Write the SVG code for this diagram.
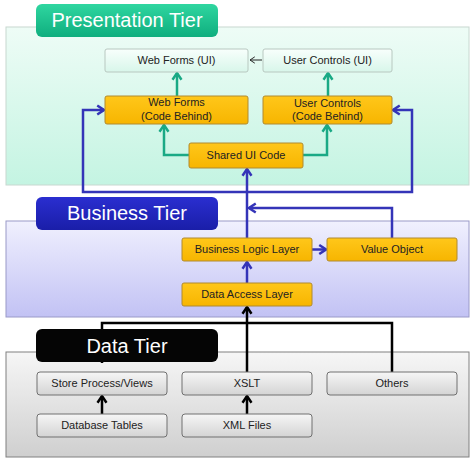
<svg xmlns="http://www.w3.org/2000/svg" width="474" height="465" viewBox="0 0 474 465">
<defs>
<linearGradient id="gPres" x1="0" y1="0" x2="0" y2="1"><stop offset="0" stop-color="#eefcf6"/><stop offset="1" stop-color="#c4f4e2"/></linearGradient>
<linearGradient id="gBus" x1="0" y1="0" x2="0" y2="1"><stop offset="0" stop-color="#f0f0fe"/><stop offset="1" stop-color="#c2c2f4"/></linearGradient>
<linearGradient id="gData" x1="0" y1="0" x2="0" y2="1"><stop offset="0" stop-color="#f6f6f6"/><stop offset="1" stop-color="#cfcfcf"/></linearGradient>
<linearGradient id="gPresT" x1="0" y1="0" x2="0" y2="1"><stop offset="0" stop-color="#2fd6a0"/><stop offset="1" stop-color="#0fae7e"/></linearGradient>
<linearGradient id="gBusT" x1="0" y1="0" x2="0" y2="1"><stop offset="0" stop-color="#2a2ed0"/><stop offset="1" stop-color="#1a1ea8"/></linearGradient>
<linearGradient id="gUI" x1="0" y1="0" x2="0" y2="1"><stop offset="0" stop-color="#f8fffc"/><stop offset="1" stop-color="#d8f6ea"/></linearGradient>
<linearGradient id="gOr" x1="0" y1="0" x2="0" y2="1"><stop offset="0" stop-color="#ffc71a"/><stop offset="1" stop-color="#f7b500"/></linearGradient>
<linearGradient id="gGr" x1="0" y1="0" x2="0" y2="1"><stop offset="0" stop-color="#f6f6f6"/><stop offset="1" stop-color="#d4d4d4"/></linearGradient>
<marker id="aG" viewBox="0 0 10 10" refX="8" refY="5" markerWidth="4.5" markerHeight="4.5" orient="auto" markerUnits="strokeWidth"><polyline points="2,1 8,5 2,9" fill="none" stroke="#1aa985" stroke-width="2.2"/></marker>
<marker id="aB" viewBox="0 0 10 10" refX="8" refY="5" markerWidth="4.5" markerHeight="4.5" orient="auto" markerUnits="strokeWidth"><polyline points="2,1 8,5 2,9" fill="none" stroke="#3434b8" stroke-width="2.2"/></marker>
<marker id="aK" viewBox="0 0 10 10" refX="8" refY="5" markerWidth="4.5" markerHeight="4.5" orient="auto" markerUnits="strokeWidth"><polyline points="2,1 8,5 2,9" fill="none" stroke="#000" stroke-width="2.2"/></marker>
<marker id="aT" viewBox="0 0 10 10" refX="8" refY="5" markerWidth="8" markerHeight="8" orient="auto" markerUnits="strokeWidth"><polyline points="2,1 8,5 2,9" fill="none" stroke="#222" stroke-width="1.2"/></marker>
</defs>
<style>
text{font-family:"Liberation Sans",Arial,sans-serif;}
.tier{fill:#fff;font-size:20px;}
.lbl{font-size:11px;fill:#222;text-anchor:middle;}
.ui{fill:url(#gUI);stroke:#b8c8c0;stroke-width:1;}
.or{fill:url(#gOr);stroke:#b08a30;stroke-width:1;}
.gr{fill:url(#gGr);stroke:#707070;stroke-width:1;}
.g{fill:none;stroke:#1aa985;stroke-width:2.5;}
.b{fill:none;stroke:#3434b8;stroke-width:2.5;}
.k{fill:none;stroke:#000;stroke-width:2.5;}
</style>
<rect width="474" height="465" fill="#fff"/>
<g id="panels">
<rect id="presPanel" x="6" y="27" width="463" height="158" fill="url(#gPres)" stroke="#c8d8d0"/>
<rect id="busPanel" x="6" y="221" width="463" height="96" fill="url(#gBus)" stroke="#9a9ac8"/>
<rect id="dataPanel" x="6" y="352" width="463" height="105" fill="url(#gData)" stroke="#808080"/>
</g>
<g id="connectors">
<line x1="262" y1="60" x2="250" y2="60" style="fill:none;stroke:#222;stroke-width:1" marker-end="url(#aT)"/>
<line class="g" x1="177" y1="96" x2="177" y2="73" marker-end="url(#aG)"/>
<line class="g" x1="328" y1="96" x2="328" y2="73" marker-end="url(#aG)"/>
<polyline class="g" points="189,155 164,155 164,125" marker-end="url(#aG)"/>
<polyline class="g" points="303,155 327,155 327,125" marker-end="url(#aG)"/>
<line class="b" x1="247" y1="238" x2="247" y2="169" marker-end="url(#aB)"/>
<polyline class="b" points="247,192 83,192 83,110 104,110" marker-end="url(#aB)"/>
<polyline class="b" points="247,192 412,192 412,110 393,110" marker-end="url(#aB)"/>
<polyline class="b" points="392,238 392,208 249,208" marker-end="url(#aB)"/>
<line class="b" x1="312" y1="249.5" x2="326" y2="249.5" marker-end="url(#aB)"/>
<line class="b" x1="247" y1="283" x2="247" y2="262" marker-end="url(#aB)"/>
<line class="k" x1="247" y1="372" x2="247" y2="307" marker-end="url(#aK)"/>
<polyline class="k" points="102,363 102,323 392,323 392,372"/>
<line class="k" x1="102" y1="414" x2="102" y2="396" marker-end="url(#aK)"/>
<line class="k" x1="247" y1="414" x2="247" y2="396" marker-end="url(#aK)"/>
</g>
<g id="presTierLabel"><rect x="36" y="4" width="182" height="33" rx="6" fill="url(#gPresT)"/><text class="tier" x="127" y="27" text-anchor="middle">Presentation Tier</text></g>
<g id="busTierLabel"><rect x="36" y="197" width="182" height="33" rx="6" fill="url(#gBusT)"/><text class="tier" x="127" y="220" text-anchor="middle">Business Tier</text></g>
<g id="dataTierLabel"><rect x="36" y="329" width="182" height="33" rx="6" fill="#050505"/><text class="tier" x="127" y="353" text-anchor="middle">Data Tier</text></g>
<g id="webFormsUI"><rect class="ui" x="105" y="49" width="143" height="23" rx="2"/><text class="lbl" x="176.5" y="64">Web Forms (UI)</text></g>
<g id="userControlsUI"><rect class="ui" x="263" y="49" width="129" height="23" rx="2"/><text class="lbl" x="327.5" y="64">User Controls (UI)</text></g>
<g id="webFormsCB"><rect class="or" x="105" y="96" width="143" height="28" rx="2"/><text class="lbl" x="176.5" y="106">Web Forms</text><text class="lbl" x="176.5" y="120">(Code Behind)</text></g>
<g id="userControlsCB"><rect class="or" x="263" y="96" width="129" height="28" rx="2"/><text class="lbl" x="327.5" y="107">User Controls</text><text class="lbl" x="327.5" y="120">(Code Behind)</text></g>
<g id="sharedUI"><rect class="or" x="189" y="143" width="114" height="25" rx="2"/><text class="lbl" x="246" y="159">Shared UI Code</text></g>
<g id="bll"><rect class="or" x="182" y="238" width="130" height="23" rx="2"/><text class="lbl" x="247" y="253">Business Logic Layer</text></g>
<g id="valueObject"><rect class="or" x="327" y="238" width="130" height="23" rx="2"/><text class="lbl" x="392" y="253">Value Object</text></g>
<g id="dal"><rect class="or" x="182" y="283" width="130" height="23" rx="2"/><text class="lbl" x="247" y="298">Data Access Layer</text></g>
<g id="storeProc"><rect class="gr" x="37" y="372" width="130" height="23" rx="3"/><text class="lbl" x="102" y="387">Store Process/Views</text></g>
<g id="xslt"><rect class="gr" x="182" y="372" width="130" height="23" rx="3"/><text class="lbl" x="247" y="387">XSLT</text></g>
<g id="others"><rect class="gr" x="327" y="372" width="130" height="23" rx="3"/><text class="lbl" x="392" y="387">Others</text></g>
<g id="dbTables"><rect class="gr" x="37" y="414" width="130" height="23" rx="3"/><text class="lbl" x="102" y="429">Database Tables</text></g>
<g id="xmlFiles"><rect class="gr" x="182" y="414" width="130" height="23" rx="3"/><text class="lbl" x="247" y="429">XML Files</text></g>
</svg>
